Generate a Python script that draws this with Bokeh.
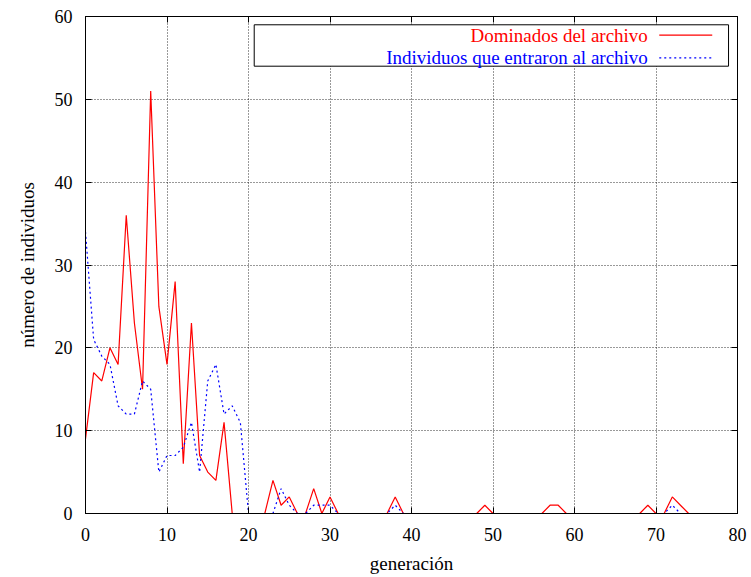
from bokeh.plotting import figure
from bokeh.models import Range1d, LinearAxis, FixedTicker, Label, BoxAnnotation
from bokeh.embed import file_html
from bokeh.resources import INLINE

# ---- data ----
generacion = list(range(0, 81))
dominados = [9, 17, 16, 20, 18, 36, 23, 15, 51, 25,
             18, 28, 6, 23, 7, 5, 4, 11, 0, 0,
             0, 0, 0, 4, 1, 2, 0, 0, 3, 0,
             2, 0, 0, 0, 0, 0, 0, 0, 2, 0,
             0, 0, 0, 0, 0, 0, 0, 0, 0, 1,
             0, 0, 0, 0, 0, 0, 0, 1, 1, 0,
             0, 0, 0, 0, 0, 0, 0, 0, 0, 1,
             0, 0, 2, 1, 0, 0, 0, 0, 0, 0, 0]
entraron = [34, 21, 19, 18, 13, 12, 12, 16, 15, 5,
            7, 7, 8, 11, 5, 16, 18, 12, 13, 11,
            0, 0, 0, 0, 3, 1, 0, 0, 1, 1,
            1, 0, 0, 0, 0, 0, 0, 0, 1, 0,
            0, 0, 0, 0, 0, 0, 0, 0, 0, 0,
            0, 0, 0, 0, 0, 0, 0, 0, 0, 0,
            0, 0, 0, 0, 0, 0, 0, 0, 0, 0,
            0, 0, 1, 0, 0, 0, 0, 0, 0, 0, 0]
x_ticks = [0, 10, 20, 30, 40, 50, 60, 70, 80]
y_ticks = [0, 10, 20, 30, 40, 50, 60]
label_red = "Dominados del archivo"
label_blue = "Individuos que entraron al archivo"

FONT = "Liberation Serif"
TICK_SIZE = "18px"
LABEL_SIZE = "19px"
LEG_SIZE = "19px"

p = figure(width=751, height=577,
           x_range=Range1d(0, 80), y_range=Range1d(0, 60),
           output_backend="svg", toolbar_location=None,
           min_border_left=85, min_border_right=14,
           min_border_top=16, min_border_bottom=64)
p.background_fill_color = "white"
p.border_fill_color = "white"
p.outline_line_color = "black"
p.outline_line_width = 1
p.outline_line_alpha = 1

for ax in (p.xaxis[0], p.yaxis[0]):
    ax.major_tick_in = 6
    ax.major_tick_out = 0
    ax.minor_tick_line_color = None
    ax.axis_line_color = "black"
    ax.major_tick_line_color = "black"
    ax.major_label_text_font = FONT
    ax.major_label_text_font_size = TICK_SIZE
    ax.major_label_text_color = "black"
    ax.axis_label_text_font = FONT
    ax.axis_label_text_font_size = LABEL_SIZE
    ax.axis_label_text_font_style = "normal"
    ax.axis_label_text_color = "black"

p.xaxis[0].ticker = FixedTicker(ticks=x_ticks)
p.yaxis[0].ticker = FixedTicker(ticks=y_ticks)
p.xaxis[0].axis_label = "generación"
p.yaxis[0].axis_label = "número de individuos"
p.xaxis[0].major_label_standoff = 14
p.yaxis[0].major_label_standoff = 13
p.xaxis[0].axis_label_standoff = 9
p.yaxis[0].axis_label_standoff = 14

# mirror axes (ticks only)
top = LinearAxis(ticker=FixedTicker(ticks=x_ticks), major_label_overrides={t: " " for t in x_ticks})
right = LinearAxis(ticker=FixedTicker(ticks=y_ticks), major_label_overrides={t: " " for t in y_ticks})
for ax in (top, right):
    ax.major_tick_in = 6
    ax.major_tick_out = 0
    ax.minor_tick_line_color = None
    ax.major_label_text_font_size = "1px"
    ax.major_label_standoff = 0
    ax.axis_line_color = "black"
p.add_layout(top, "above")
p.add_layout(right, "right")

for g, tk in ((p.xgrid[0], x_ticks), (p.ygrid[0], y_ticks)):
    g.ticker = FixedTicker(ticks=tk)
    g.grid_line_color = "black"
    g.grid_line_dash = "1 2"
    g.grid_line_width = 1
    g.grid_line_alpha = 0.8

p.line(generacion, dominados, line_color="#ff0000", line_width=1.2)
p.line(generacion, entraron, line_color="#0000ff", line_width=1.2, line_dash="2 3")

# legend (gnuplot style: text then sample, boxed)
LEG_LEFT, LEG_RIGHT, LEG_BOTTOM, LEG_TOP = 20.7, 78.9, 54.0, 59.0
ROW1, ROW2 = 57.75, 55.0
TEXT_X = 69.0
SAMPLE_X0, SAMPLE_X1 = 70.4, 76.9

p.add_layout(BoxAnnotation(left=LEG_LEFT, right=LEG_RIGHT, bottom=LEG_BOTTOM, top=LEG_TOP,
                           fill_color="white", fill_alpha=1, line_color="black",
                           line_width=1, line_alpha=1))
for txt, yy, col in ((label_red, ROW1, "#ff0000"), (label_blue, ROW2, "#0000ff")):
    p.add_layout(Label(x=TEXT_X, y=yy, text=txt, text_align="right", text_baseline="middle",
                       text_color=col, text_font=FONT, text_font_size=LEG_SIZE))
p.line([SAMPLE_X0, SAMPLE_X1], [ROW1, ROW1], line_color="#ff0000", line_width=1.2, level="overlay")
p.line([SAMPLE_X0, SAMPLE_X1], [ROW2, ROW2], line_color="#0000ff", line_width=1.2,
       line_dash="2 3", level="overlay")

open("out.html", "w").write(file_html(p, INLINE))
